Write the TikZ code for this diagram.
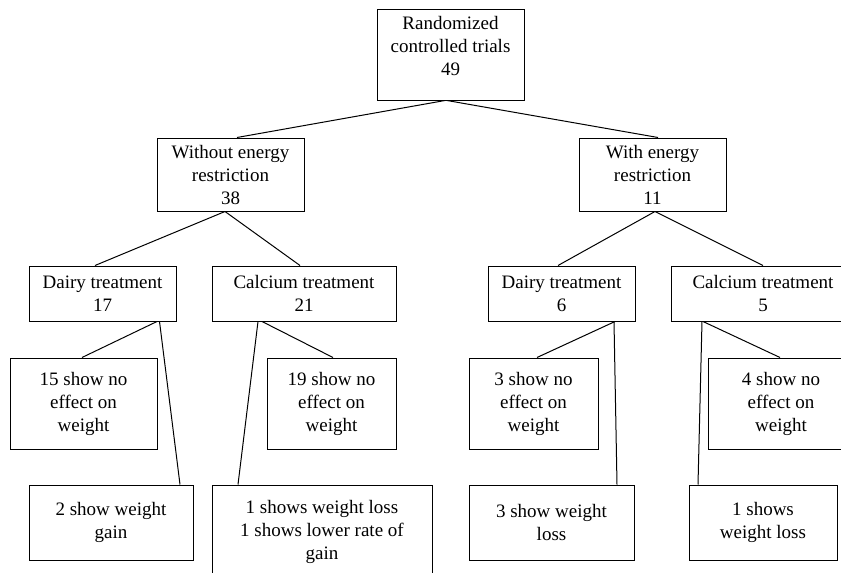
\documentclass[tikz,border=0pt]{standalone}
\usepackage{fontspec}
\setmainfont{Liberation Serif}
\begin{document}
\begin{tikzpicture}[x=1pt,y=-1pt,
  box/.style={draw=black, line width=1pt, fill=white, align=center, inner sep=0pt,
    font=\fontsize{19}{23}\selectfont},
  conn/.style={draw=black, line width=1pt}]
\clip (0,0) rectangle (841,573);
\fill[white] (0,0) rectangle (841,573);
% nodes
\node[box, minimum width=147pt, minimum height=91pt] (rct) at (450.5,54.5) {\raisebox{2pt}[0pt][0pt]{\begin{tabular}{@{}c@{}}Randomized\\controlled trials\\49\end{tabular}}};
\node[box, minimum width=147pt, minimum height=73pt] (wo) at (230.5,174.5) {Without energy\\restriction\\38};
\node[box, minimum width=147pt, minimum height=73pt] (wi) at (652.5,174.5) {With energy\\restriction\\11};
\node[box, minimum width=147pt, minimum height=55pt] (d1) at (102.5,293.5) {Dairy treatment\\17};
\node[box, minimum width=184pt, minimum height=55pt] (c1) at (304,293.5) {Calcium treatment\\21};
\node[box, minimum width=147pt, minimum height=55pt] (d2) at (561.5,293.5) {Dairy treatment\\6};
\node[box, minimum width=184pt, minimum height=55pt] (c2) at (763,293.5) {Calcium treatment\\5};
\node[box, minimum width=147pt, minimum height=91pt] (n15) at (83.5,403.5) {15 show no\\effect on\\weight};
\node[box, minimum width=129pt, minimum height=91pt] (n19) at (331.5,403.5) {19 show no\\effect on\\weight};
\node[box, minimum width=129pt, minimum height=91pt] (n3) at (533.5,403.5) {3 show no\\effect on\\weight};
\node[box, minimum width=146pt, minimum height=91pt] (n4) at (781,403.5) {4 show no\\effect on\\weight};
\node[box, minimum width=164pt, minimum height=75pt] (g2) at (111,522.5) {2 show weight\\gain};
\node[box, minimum width=220pt, minimum height=94pt] (big) at (322,532) {1 shows weight loss\\1 shows lower rate of\\gain};
\node[box, minimum width=165pt, minimum height=75pt] (l3) at (551.5,522.5) {3 show weight\\loss};
\node[box, minimum width=148pt, minimum height=75pt] (l1) at (763,522.5) {1 shows\\weight loss};
% connectors
\draw[conn] ([xshift=-5.5pt]rct.south) -- ([xshift=6.5pt]wo.north);
\draw[conn] ([xshift=-3.5pt]rct.south) -- ([xshift=5.5pt]wi.north);
\draw[conn] ([xshift=-5.5pt]wo.south) -- ([xshift=-7.5pt]d1.north);
\draw[conn] ([xshift=-5.5pt]wo.south) -- ([xshift=-4pt]c1.north);
\draw[conn] ([xshift=2.5pt]wi.south) -- ([xshift=-3.5pt]d2.north);
\draw[conn] ([xshift=2.5pt]wi.south) -- ([xshift=0pt]c2.north);
\draw[conn] ([xshift=54.5pt]d1.south) -- ([xshift=-1.5pt]n15.north);
\draw[conn] ([xshift=57pt]d1.south) -- ([xshift=69pt]g2.north);
\draw[conn] ([xshift=-42pt]c1.south) -- ([xshift=1.5pt]n19.north);
\draw[conn] ([xshift=-46pt]c1.south) -- ([xshift=-84pt]big.north);
\draw[conn] ([xshift=53.5pt]d2.south) -- ([xshift=3.5pt]n3.north);
\draw[conn] ([xshift=52.5pt]d2.south) -- ([xshift=65.5pt]l3.north);
\draw[conn] ([xshift=-60pt]c2.south) -- ([xshift=-1pt]n4.north);
\draw[conn] ([xshift=-61pt]c2.south) -- ([xshift=-65pt]l1.north);
\end{tikzpicture}
\end{document}
